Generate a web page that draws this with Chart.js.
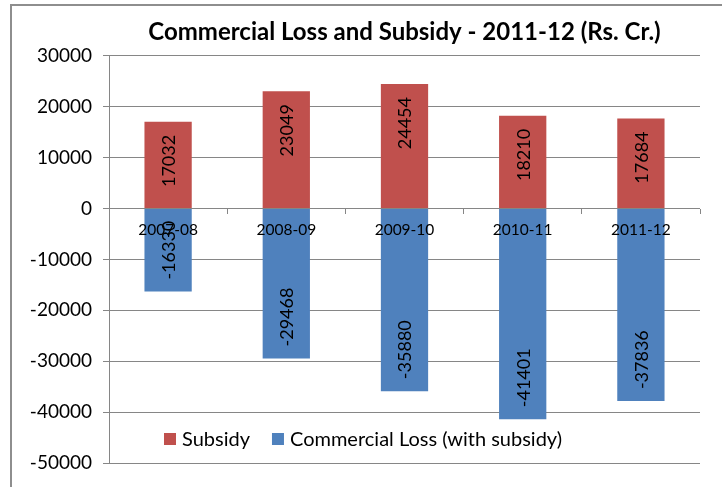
<!DOCTYPE html>
<html>
<head>
<meta charset="utf-8">
<script src="https://cdn.jsdelivr.net/npm/chart.js@4.4.1/dist/chart.umd.min.js"></script>
<style>
  html, body { margin: 0; padding: 0; background: #fff; overflow: hidden; }
  #frame { position: absolute; left: 10px; top: 4px; width: 780px; height: 540px; border: 2px solid #8e8e8e; box-sizing: border-box; }
  #wrap { position: absolute; left: 0; top: 0; width: 722px; height: 487px; }
</style>
</head>
<body>
<div id="frame"></div>
<div id="wrap"><canvas id="chart"></canvas></div>
<script>
const YEARS = ["2007-08", "2008-09", "2009-10", "2010-11", "2011-12"];
const SUBSIDY = [17032, 23049, 24454, 18210, 17684];
const COMMERCIAL_LOSS = [-16330, -29468, -35880, -41401, -37836];
const Y_MIN = -50000;
const Y_MAX = 30000;
const Y_STEP = 10000;

const FONT = "Lato, 'Open Sans', sans-serif";
const GRID = "#868686";

// Value labels rotated 90deg, anchored just inside the far end of each bar.
const barLabels = {
  id: "barLabels",
  afterDatasetsDraw(chart) {
    const ctx = chart.ctx;
    ctx.save();
    ctx.fillStyle = "#000";
    ctx.font = `18px ${FONT}`;
    ctx.textBaseline = "middle";
    chart.data.datasets.forEach((ds, i) => {
      chart.getDatasetMeta(i).data.forEach((bar, j) => {
        const v = ds.data[j];
        const up = v >= 0;
        ctx.save();
        ctx.translate(bar.x, up ? bar.y + 13 : bar.y - 12);
        ctx.rotate(-Math.PI / 2);
        ctx.textAlign = up ? "right" : "left";
        ctx.fillText(String(v), 0, 1);
        ctx.restore();
      });
    });
    ctx.restore();
  },
};

// Legend drawn inside the plot, near the bottom.
const innerLegend = {
  id: "innerLegend",
  afterDraw(chart) {
    const ctx = chart.ctx;
    const area = chart.chartArea;
    let x = area.left + 55;
    const y = area.bottom - 24;
    ctx.save();
    ctx.font = `20px ${FONT}`;
    ctx.textBaseline = "middle";
    ctx.textAlign = "left";
    chart.data.datasets.forEach((ds) => {
      ctx.fillStyle = ds.backgroundColor;
      ctx.fillRect(x, y - 6, 12, 12);
      ctx.fillStyle = "#000";
      ctx.fillText(ds.label, x + 18, y + 1);
      x += 18 + ctx.measureText(ds.label).width + 22;
    });
    ctx.restore();
  },
};

new Chart(document.getElementById("chart"), {
  type: "bar",
  data: {
    labels: YEARS,
    datasets: [
      { label: "Subsidy", data: SUBSIDY, backgroundColor: "#c0504d", barPercentage: 0.4, categoryPercentage: 1 },
      { label: "Commercial Loss (with subsidy)", data: COMMERCIAL_LOSS, backgroundColor: "#4f81bd", barPercentage: 0.4, categoryPercentage: 1 },
    ],
  },
  options: {
    responsive: true,
    maintainAspectRatio: false,
    animation: false,
    layout: { padding: { left: 0, right: 22, top: 0, bottom: 24 } },
    plugins: {
      legend: { display: false },
      tooltip: { enabled: false },
      title: {
        display: true,
        fullSize: false,
        text: "Commercial Loss and Subsidy - 2011-12 (Rs. Cr.)",
        color: "#000",
        font: { family: FONT, size: 24, weight: "bold" },
        padding: { top: 18, bottom: 9 },
      },
    },
    scales: {
      x: {
        stacked: true,
        position: { y: 0 },
        border: { display: false },
        grid: { drawOnChartArea: false, drawTicks: true, tickLength: 5, color: GRID, offset: true },
        ticks: { z: 1, color: "#000", font: { family: FONT, size: 15.5 }, padding: 7, maxRotation: 0 },
      },
      y: {
        stacked: true,
        min: Y_MIN,
        max: Y_MAX,
        afterFit(scale) { scale.width = 109; },
        border: { color: GRID },
        grid: { color: GRID, tickLength: 6 },
        ticks: {
          stepSize: Y_STEP,
          color: "#000",
          font: { family: FONT, size: 19 },
          padding: 11,
          callback: (v) => String(v),
        },
      },
    },
  },
  plugins: [barLabels, innerLegend],
});
</script>
</body>
</html>
